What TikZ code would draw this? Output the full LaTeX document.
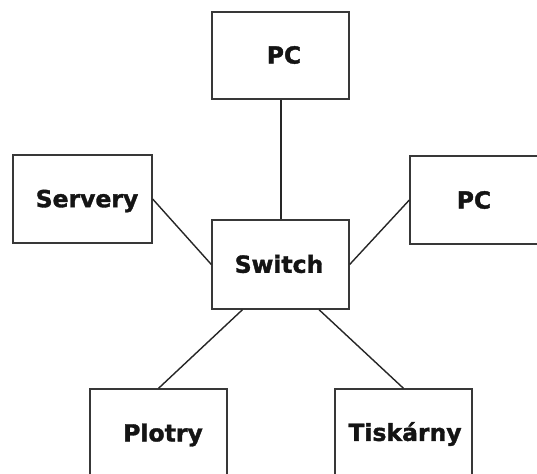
\documentclass[tikz,border=0pt]{standalone}
\usepackage{fontspec}
\setmainfont{DejaVu Sans}[BoldFeatures={FakeBold=1.5}]
\usetikzlibrary{calc}
\tikzset{
  unitbox/.style={draw=black!78, line width=1.3pt, rectangle, inner sep=0pt},
  caption/.style={font=\bfseries\fontsize{23.5}{28}\selectfont, text=black!92, inner sep=0pt},
  link/.style={draw=black!85, line width=1.4pt}
}
\begin{document}
\begin{tikzpicture}[x=1pt, y=-1pt]
  \useasboundingbox (0,0) rectangle (537,473);
  \fill[white] (0,0) rectangle (537,473);
  \clip (0,0) rectangle (537,473);

  % boxes
  \node[unitbox, minimum width=137pt, minimum height=87pt] (pctop) at (280.5,55.5) {};
  \node[unitbox, minimum width=139pt, minimum height=88pt] (servery) at (82.5,199) {};
  \node[unitbox, minimum width=140pt, minimum height=88pt] (pcright) at (480,200) {};
  \node[unitbox, minimum width=137pt, minimum height=89pt] (switch) at (280.5,264.5) {};
  \node[unitbox, minimum width=137pt, minimum height=100pt] (plotry) at (158.5,439) {};
  \node[unitbox, minimum width=137pt, minimum height=100pt] (tiskarny) at (403.5,439) {};

  % labels
  \node[caption] (tpctop) at (284,55) {PC};
  \node[caption] (tservery) at (87,201) {Servery};
  \node[caption] (tpcright) at (474,200) {PC};
  \node[caption] (tswitch) at (279,264) {Switch};
  \node[caption] (tplotry) at (163,435) {Plotry};
  \node[caption] (ttiskarny) at (405,434) {Tiskárny};

  % connectors
  \draw[link] ([xshift=0.5pt]pctop.south) -- ([xshift=0.5pt]switch.north);
  \draw[link] (servery.east) -- (switch.west);
  \draw[link] (switch.east) -- (pcright.west);
  \draw[link] ([xshift=-38pt]switch.south) -- (plotry.north);
  \draw[link] ([xshift=38.5pt]switch.south) -- (tiskarny.north);
\end{tikzpicture}
\end{document}
